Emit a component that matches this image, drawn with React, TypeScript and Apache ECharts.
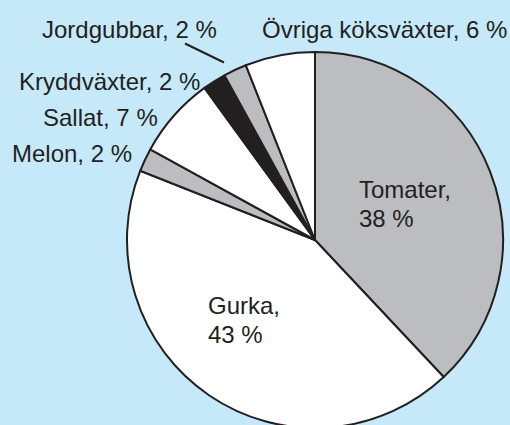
import React, { useEffect, useRef } from "react";
import * as echarts from "echarts";

const categories = ["Tomater", "Gurka", "Melon", "Sallat", "Kryddväxter", "Jordgubbar", "Övriga köksväxter"];
const shares = [38, 43, 2, 7, 2, 2, 6];
const fills = ["#bcbdc0", "#ffffff", "#bcbdc0", "#ffffff", "#231f20", "#bcbdc0", "#ffffff"];
const insideLabels = ["Tomater", "Gurka"];

// label anchor placement (left-aligned, vertically centred)
const labelAnchors: Record<string, [number, number]> = {
  Tomater: [359, 204],
  Gurka: [208, 320],
  Melon: [12, 153],
  Sallat: [43, 117],
  "Kryddväxter": [19, 81],
  Jordgubbar: [42, 29],
  "Övriga köksväxter": [262, 29],
};

export default function App() {
  const ref = useRef<HTMLDivElement>(null);
  useEffect(() => {
    if (!ref.current) return;
    const chart = echarts.init(ref.current, undefined, { renderer: "svg" });
    const data = categories.map((name, i) => ({
      name,
      value: shares[i],
      itemStyle: { color: fills[i] },
      label: {
        formatter: insideLabels.includes(name) ? "{b},\n{c} %" : "{b}, {c} %",
      },
    }));
    chart.setOption({
      animation: false,
      backgroundColor: "#c5e9f9",
      graphic: [
        {
          type: "line",
          shape: { x1: 185, y1: 43.5, x2: 224, y2: 62.5 },
          style: { stroke: "#231f20", lineWidth: 2 },
        },
      ],
      series: [
        {
          type: "pie",
          center: [315, 240],
          radius: 188,
          startAngle: 90,
          clockwise: true,
          avoidLabelOverlap: false,
          data,
          itemStyle: { borderColor: "#231f20", borderWidth: 2 },
          label: {
            show: true,
            position: "outside",
            color: "#231f20",
            fontSize: 24,
            lineHeight: 29,
            fontFamily: "'Liberation Sans', Arial, sans-serif",
          },
          labelLine: { show: false },
          emphasis: { disabled: true },
          labelLayout: (params: any) => {
            const p = labelAnchors[categories[params.dataIndex]];
            return { x: p[0], y: p[1], align: "left", verticalAlign: "middle" };
          },
        },
      ],
    });
    return () => chart.dispose();
  }, []);
  return (
    <div
      ref={ref}
      style={{ position: "absolute", left: 0, top: 0, width: 510, height: 425 }}
    />
  );
}
